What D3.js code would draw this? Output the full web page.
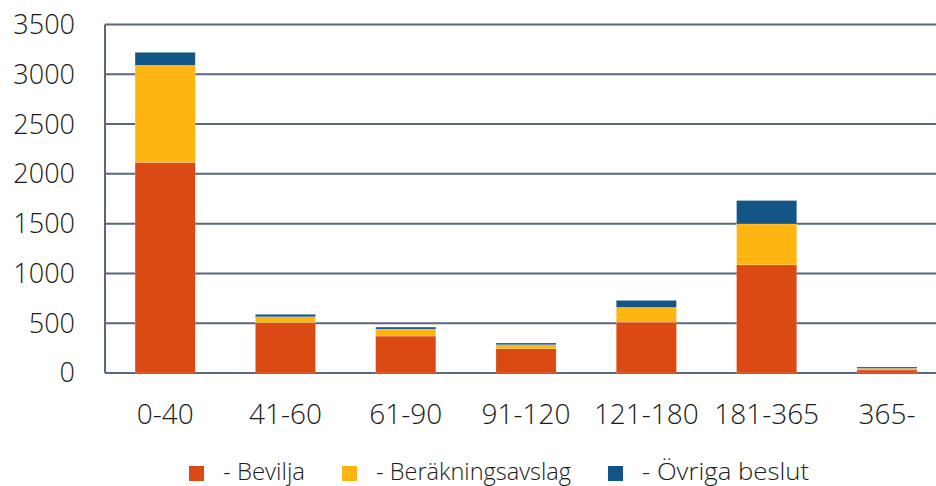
<!DOCTYPE html>
<html lang="sv">
<head>
<meta charset="UTF-8">
<title>Beslut per handläggningstid</title>
<style>
  body { margin: 0; background: #fff; }
  text { font-family: "Open Sans", sans-serif; font-weight: 300; fill: #1a1a1a; }
</style>
</head>
<body>
<svg id="svg" width="936" height="486"></svg>
<script src="https://d3js.org/d3.v7.min.js"></script>
<script>
  const categories = ['0-40', '41-60', '61-90', '91-120', '121-180', '181-365', '365-']
  const bevilja = [2115, 506, 371, 244, 511, 1086, 30]
  const berakningsavslag = [975, 59, 70, 40, 148, 411, 17]
  const ovriga = [130, 24, 20, 17, 70, 235, 13]
  const seriesNames = ['- Bevilja', '- Beräkningsavslag', '- Övriga beslut']
  const colors = ['#dc4a14', '#ffb511', '#135586']
  const yTicks = [0, 500, 1000, 1500, 2000, 2500, 3000, 3500]

  const rows = categories.map((c, i) => ({
    cat: c, b0: bevilja[i], b1: berakningsavslag[i], b2: ovriga[i]
  }))
  const stack = d3.stack().keys(['b0', 'b1', 'b2'])(rows)

  const svg = d3.select('#svg')
  const plotLeft = 105, plotTop = 24.5, plotBottom = 373

  const x = d3.scaleBand()
    .domain(categories)
    .range([plotLeft, plotLeft + 7 * 120.3])
    .paddingInner(0.5)
    .paddingOuter(0.25)

  const y = d3.scaleLinear()
    .domain([0, 3500])
    .range([plotBottom, plotTop])

  // gridlines
  svg.append('g')
    .selectAll('line')
    .data(yTicks)
    .join('line')
    .attr('x1', plotLeft)
    .attr('x2', 936)
    .attr('y1', d => y(d))
    .attr('y2', d => y(d))
    .attr('stroke', '#5b677c')
    .attr('stroke-width', 2)

  // left axis line
  svg.append('line')
    .attr('x1', plotLeft).attr('x2', plotLeft)
    .attr('y1', y(3500)).attr('y2', y(0))
    .attr('stroke', '#5b677c')
    .attr('stroke-width', 2)

  // y labels
  svg.append('g')
    .selectAll('text')
    .data(yTicks)
    .join('text')
    .attr('x', 75)
    .attr('y', d => y(d))
    .attr('dy', '0.35em')
    .attr('text-anchor', 'end')
    .attr('font-size', 27)
    .text(d => d)

  // bars
  svg.append('g')
    .selectAll('g')
    .data(stack)
    .join('g')
    .attr('fill', (d, i) => colors[i])
    .selectAll('rect')
    .data(d => d)
    .join('rect')
    .attr('x', d => x(d.data.cat))
    .attr('width', x.bandwidth())
    .attr('y', d => y(d[1]))
    .attr('height', d => y(d[0]) - y(d[1]))
    .attr('stroke', 'rgba(255,255,255,0.35)')
    .attr('stroke-width', 0.5)

  // x labels
  svg.append('g')
    .selectAll('text')
    .data(categories)
    .join('text')
    .attr('x', d => x(d) + x.bandwidth() / 2)
    .attr('y', 414)
    .attr('dy', '0.35em')
    .attr('text-anchor', 'middle')
    .attr('font-size', 28)
    .text(d => d)

  // legend
  const legendX = [189, 342, 608]
  const legendW = [82, 195, 167]
  const legend = svg.append('g')
    .selectAll('g')
    .data(seriesNames)
    .join('g')
    .attr('transform', (d, i) => `translate(${legendX[i]},466)`)
  legend.append('rect')
    .attr('width', 15).attr('height', 15)
    .attr('fill', (d, i) => colors[i])
  legend.append('text')
    .attr('x', 34)
    .attr('y', 14)
    .attr('font-size', 24)
    .attr('textLength', (d, i) => legendW[i])
    .attr('lengthAdjust', 'spacingAndGlyphs')
    .text(d => d)
</script>
</body>
</html>
